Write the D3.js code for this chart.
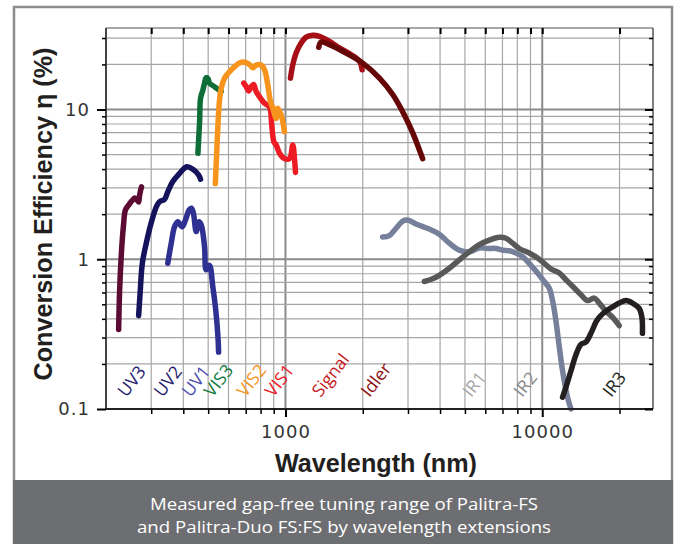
<!DOCTYPE html>
<html>
<head>
  <meta charset="utf-8">
  <title>Palitra-FS tuning range</title>
  <script src="https://d3js.org/d3.v7.min.js"></script>
  <style>
    body { margin: 0; background: #fff; }
    .grid line { stroke: #a6a6a6; stroke-width: 1.2; }
    .grid line.major { stroke: #8a8a8a; stroke-width: 2; }
    .curve { fill: none; stroke-width: 5.5; stroke-linecap: round; stroke-linejoin: round; }
    .tick text { font-family: "DejaVu Sans"; font-size: 18px; letter-spacing: 1px; fill: #333; }
    .band { font-family: "Open Sans"; font-size: 17.5px; }
    .title { font-family: "Liberation Sans"; font-weight: bold; font-size: 26px; fill: #231f20; }
    .caption { font-family: "Open Sans"; font-size: 16.5px; fill: #fff; }
  </style>
</head>
<body>
  <div id="chart"></div>

  <script>
    // wavelength (nm), conversion efficiency (%)
    const uv3 = [[224,0.34],[226,0.62],[230,1.15],[234,1.69],[238,2.13],[245,2.30],[252,2.45],[259,2.56],[263,2.52],[268,2.41],[270,2.64],[273,2.90],[275,3.04]];
    const uv2 = [[268,0.42],[272,0.62],[277,0.94],[287,1.28],[300,1.75],[314,2.24],[323,2.42],[338,2.51],[348,2.82],[364,3.30],[387,3.75],[413,4.15],[436,3.99],[459,3.65],[467,3.42]];
    const uv1 = [[348,0.94],[359,1.28],[370,1.65],[381,1.78],[396,1.65],[408,1.83],[421,2.13],[430,2.19],[438,2.03],[449,1.53],[460,1.78],[470,1.69],[484,1.21],[491,0.85],[506,0.91],[521,0.66],[535,0.46],[546,0.30],[549,0.24]];
    const vis3 = [[456,5.1],[463,8.3],[467,11.9],[477,13.5],[484,15.0],[491,16.3],[499,16.1],[506,15.0],[529,14.2],[562,13.2]];
    const vis1 = [[688,15.0],[703,14.2],[718,13.3],[735,14.2],[751,14.7],[769,13.2],[799,11.9],[829,11.0],[866,10.4],[884,7.9],[901,6.1],[920,5.8],[948,5.1],[991,4.7],[1037,4.7],[1068,5.8],[1084,4.7],[1094,3.8]];
    const vis2 = [[533,3.2],[538,4.5],[545,7.5],[553,11.3],[562,13.9],[579,16.2],[606,17.9],[634,19.3],[662,20.4],[692,20.7],[724,20.0],[746,19.0],[769,19.8],[804,19.8],[829,18.4],[853,14.6],[874,11.3],[893,10.2],[920,8.7],[933,10.2],[962,9.2],[991,7.1]];
    const signal = [[1046,16.2],[1068,19.9],[1100,23.8],[1151,27.8],[1204,30.4],[1277,31.3],[1356,30.8],[1483,28.5],[1622,25.8],[1802,23.2],[1941,21.0],[1988,18.4]];
    const idler = [[1348,26.0],[1377,28.2],[1483,27.1],[1722,23.8],[2000,20.4],[2323,16.2],[2616,12.6],[2904,9.2],[3128,7.0],[3421,4.7]];
    const ir1 = [[2391,1.41],[2540,1.44],[2696,1.61],[2861,1.80],[2991,1.83],[3226,1.72],[3631,1.59],[3972,1.47],[4345,1.28],[4753,1.15],[5200,1.12],[5688,1.19],[6124,1.18],[6604,1.18],[7008,1.15],[7441,1.14],[7902,1.10],[8384,1.04],[9036,0.91],[9588,0.81],[10180,0.71],[10650,0.64],[10970,0.53],[11300,0.39],[11650,0.26],[12000,0.18],[12540,0.12],[12940,0.10]];
    const ir2 = [[3475,0.71],[3743,0.74],[3972,0.78],[4345,0.87],[4753,0.99],[5200,1.12],[5688,1.25],[6220,1.34],[6802,1.40],[7226,1.38],[7664,1.28],[8137,1.18],[8900,1.10],[9452,1.04],[10030,0.96],[10810,0.86],[11650,0.81],[12370,0.73],[13120,0.66],[14150,0.58],[15000,0.53],[15940,0.55],[16670,0.51],[17700,0.45],[18770,0.41],[19940,0.36]];
    const ir3 = [[12000,0.12],[12370,0.14],[12940,0.18],[13530,0.23],[14150,0.27],[14800,0.28],[15470,0.32],[16180,0.38],[16670,0.41],[17700,0.45],[18770,0.48],[19940,0.51],[21170,0.53],[22460,0.51],[23850,0.47],[24440,0.41],[24560,0.32]];

    // band labels along the bottom of the plot
    const bandNames = ["UV3", "UV2", "UV1", "VIS3", "VIS2", "VIS1", "Signal", "Idler", "IR1", "IR2", "IR3"];
    const bandLabelWl = [240, 332, 427, 520, 699, 898, 1368, 2123, 5290, 8360, 18560];
    const bandColors = ["#23206e", "#23206e", "#4a4fae", "#127a3c", "#f7941d", "#ed1c24", "#c4161c", "#8b1010", "#a8a8a8", "#8a8a8a", "#231f20"];

    // axis ticks
    const xMajor = [1000, 10000];
    const xMinor = [300, 400, 500, 600, 700, 800, 900, 2000, 3000, 4000, 5000, 6000, 7000, 8000, 9000, 20000];
    const yMajor = [0.1, 1, 10];
    const yMinor = [0.2, 0.3, 0.4, 0.5, 0.6, 0.7, 0.8, 0.9, 2, 3, 4, 5, 6, 7, 8, 9, 20, 30];

    const captionLines = ["Measured gap-free tuning range of Palitra-FS", "and Palitra-Duo FS:FS by wavelength extensions"];

    const series = [
      { data: uv3, color: "#5c0b33" },
      { data: uv2, color: "#15135c" },
      { data: uv1, color: "#2e3192" },
      { data: vis3, color: "#0f6e38" },
      { data: vis1, color: "#ed1c24" },
      { data: vis2, color: "#f7941d" },
      { data: signal, color: "#a50f15" },
      { data: idler, color: "#650707" },
      { data: ir1, color: "#77809a" },
      { data: ir2, color: "#595959" },
      { data: ir3, color: "#231f20" }
    ];

    const plot = { left: 106, right: 653, top: 28, bottom: 409 };

    const svg = d3.select("#chart")
      .append("svg")
      .attr("width", 675)
      .attr("height", 544);

    // outer frame + caption box
    svg.append("rect")
      .attr("x", 14).attr("y", 7).attr("width", 658).attr("height", 540)
      .attr("fill", "#fff").attr("stroke", "#8c8c8c").attr("stroke-width", 2.5);

    svg.append("rect")
      .attr("x", 13).attr("y", 480).attr("width", 660).attr("height", 64)
      .attr("fill", "#6d6e71");

    const x = d3.scaleLog().domain([200, 27000]).range([plot.left, plot.right]);
    const y = d3.scaleLog().domain([0.1, 35]).range([plot.bottom, plot.top]);

    // grid
    const grid = svg.append("g").attr("class", "grid");
    grid.selectAll("line.v")
      .data(xMinor.concat(xMajor))
      .enter().append("line")
      .attr("class", d => xMajor.includes(d) ? "v major" : "v")
      .attr("x1", d => x(d)).attr("x2", d => x(d))
      .attr("y1", plot.top).attr("y2", plot.bottom);
    grid.selectAll("line.h")
      .data(yMinor.concat(yMajor.slice(1)))
      .enter().append("line")
      .attr("class", d => yMajor.includes(d) ? "h major" : "h")
      .attr("x1", plot.left).attr("x2", plot.right)
      .attr("y1", d => y(d)).attr("y2", d => y(d));

    // band labels
    svg.selectAll("text.band")
      .data(bandNames)
      .enter().append("text")
      .attr("class", "band")
      .attr("transform", (d, i) => "translate(" + x(bandLabelWl[i]) + ",398) rotate(-52)")
      .attr("fill", (d, i) => bandColors[i])
      .text(d => d);

    // curves
    const line = d3.line()
      .x(d => x(d[0]))
      .y(d => y(d[1]))
      .curve(d3.curveCatmullRom.alpha(0.5));

    svg.selectAll("path.curve")
      .data(series)
      .enter().append("path")
      .attr("class", "curve")
      .attr("stroke", d => d.color)
      .attr("d", d => line(d.data));

    // plot border
    const border = svg.append("g").attr("fill", "none");
    border.append("line").attr("x1", plot.left).attr("x2", plot.right).attr("y1", plot.top).attr("y2", plot.top)
      .attr("stroke", "#8a8a8a").attr("stroke-width", 1.5);
    border.append("line").attr("x1", plot.right).attr("x2", plot.right).attr("y1", plot.top).attr("y2", plot.bottom)
      .attr("stroke", "#555").attr("stroke-width", 1.5);
    border.append("line").attr("x1", plot.left).attr("x2", plot.left).attr("y1", plot.top).attr("y2", plot.bottom)
      .attr("stroke", "#444").attr("stroke-width", 2);
    border.append("line").attr("x1", plot.left - 1).attr("x2", plot.right).attr("y1", plot.bottom).attr("y2", plot.bottom)
      .attr("stroke", "#222").attr("stroke-width", 2);

    const noDomain = g => g.select(".domain").remove();

    // ticks
    svg.append("g")
      .attr("transform", "translate(0," + plot.bottom + ")")
      .call(d3.axisBottom(x).tickValues(xMajor).tickSize(8).tickPadding(8).tickFormat(d3.format("d")))
      .call(noDomain)
      .call(g => g.selectAll("line").attr("stroke-width", 2));
    svg.append("g")
      .attr("transform", "translate(0," + plot.bottom + ")")
      .call(d3.axisBottom(x).tickValues(xMinor).tickSize(5).tickFormat(""))
      .call(noDomain)
      .call(g => g.selectAll("line").attr("stroke-width", 1.5));
    svg.append("g")
      .attr("transform", "translate(0," + plot.top + ")")
      .call(d3.axisTop(x).tickValues(xMinor.concat(xMajor)).tickSize(-6).tickFormat(""))
      .call(noDomain)
      .call(g => g.selectAll("line").attr("stroke-width", 2));

    svg.append("g")
      .attr("transform", "translate(" + plot.left + ",0)")
      .call(d3.axisLeft(y).tickValues(yMajor).tickSize(9).tickPadding(7).tickFormat(d => String(d)))
      .call(noDomain)
      .call(g => g.selectAll("line").attr("stroke-width", 2));
    svg.append("g")
      .attr("transform", "translate(" + plot.left + ",0)")
      .call(d3.axisLeft(y).tickValues(yMinor).tickSize(4).tickFormat(""))
      .call(noDomain)
      .call(g => g.selectAll("line").attr("stroke-width", 1.5));
    svg.append("g")
      .attr("transform", "translate(" + plot.right + ",0)")
      .call(d3.axisRight(y).tickValues(yMajor).tickSize(-8).tickFormat(""))
      .call(noDomain)
      .call(g => g.selectAll("line").attr("stroke-width", 2));
    svg.append("g")
      .attr("transform", "translate(" + plot.right + ",0)")
      .call(d3.axisRight(y).tickValues(yMinor).tickSize(-4).tickFormat(""))
      .call(noDomain)
      .call(g => g.selectAll("line").attr("stroke-width", 1.5));

    // axis titles
    svg.append("text")
      .attr("class", "title")
      .attr("x", 376).attr("y", 472)
      .attr("text-anchor", "middle")
      .attr("textLength", 202).attr("lengthAdjust", "spacingAndGlyphs")
      .text("Wavelength (nm)");

    svg.append("text")
      .attr("class", "title")
      .attr("transform", "translate(52,214) rotate(-90)")
      .attr("text-anchor", "middle")
      .attr("textLength", 333).attr("lengthAdjust", "spacingAndGlyphs")
      .text("Conversion Efficiency η (%)");

    // caption
    svg.selectAll("text.caption")
      .data(captionLines)
      .enter().append("text")
      .attr("class", "caption")
      .attr("x", 344)
      .attr("y", (d, i) => 510 + i * 23)
      .attr("text-anchor", "middle")
      .attr("textLength", (d, i) => i === 0 ? 388 : 414)
      .attr("lengthAdjust", "spacingAndGlyphs")
      .text(d => d);
  </script>
</body>
</html>
